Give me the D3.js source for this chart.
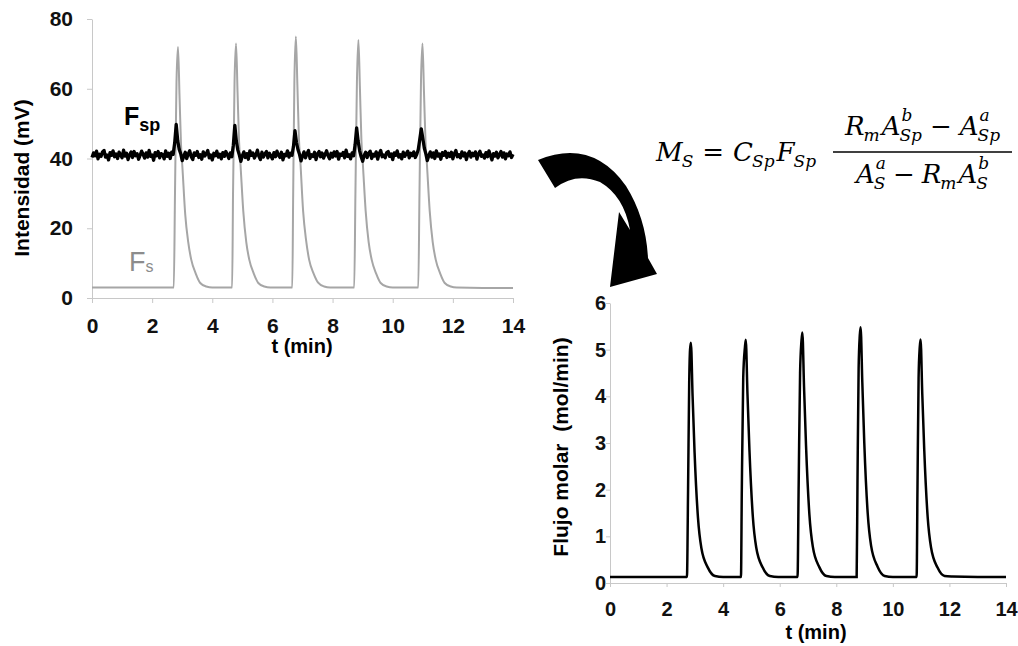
<!DOCTYPE html>
<html lang="es">
<head>
<meta charset="UTF-8">
<title>Flujo molar</title>
<script src="https://d3js.org/d3.v7.min.js"></script>
<style>
  body { margin: 0; background: #fff; }
  svg { display: block; }
  .tick text { font-family: "Liberation Sans", Arial, sans-serif; font-weight: bold; fill: #111; }
  .axis path, .axis line { stroke: #c8c8c8; }
</style>
</head>
<body>
<script>
// ---- data ----
var xTicks = [0, 2, 4, 6, 8, 10, 12, 14];
var yTicksLeft = [0, 20, 40, 60, 80];
var yTicksRight = [0, 1, 2, 3, 4, 5, 6];

// Fs (grey) signal, [t (min), mV]
var fsPoints = [
  [0, 3.0], [1, 3.0], [2, 3.0], [2.72, 3.0], [2.76, 30], [2.81, 62], [2.86, 72], [2.91, 58], [2.96, 44], [3.01, 37],
  [3.1, 24], [3.2, 16], [3.3, 11], [3.45, 7], [3.6, 4.3], [3.8, 3.3], [4.0, 3.0], [4.66, 3.0],
  [4.69, 30], [4.74, 62], [4.79, 73], [4.84, 59], [4.89, 45], [4.94, 38], [5.03, 25], [5.13, 16], [5.23, 11],
  [5.38, 7], [5.53, 4.3], [5.73, 3.3], [5.93, 3.0], [6.66, 3.0],
  [6.69, 30], [6.73, 62], [6.78, 75], [6.83, 61], [6.88, 46], [6.93, 39], [7.02, 25], [7.12, 16.5], [7.22, 11],
  [7.37, 7], [7.52, 4.4], [7.72, 3.3], [7.92, 3.0], [8.72, 3.0],
  [8.76, 30], [8.81, 62], [8.86, 74], [8.91, 60], [8.96, 45], [9.01, 38], [9.1, 25], [9.2, 16], [9.3, 11],
  [9.45, 7], [9.6, 4.3], [9.8, 3.3], [10.0, 3.0], [10.85, 3.0],
  [10.89, 30], [10.94, 62], [10.99, 73], [11.04, 59], [11.09, 45], [11.14, 38], [11.23, 25], [11.33, 16], [11.43, 11],
  [11.58, 7], [11.73, 4.3], [11.93, 3.3], [12.13, 3.0], [13, 2.9], [14, 2.9]
];

// Fsp (black, noisy) signal, one value every 0.05 min from 0 to 14
var fspStep = 0.05;
var fspValues = [
  40.3, 41.6, 40.8, 42.1, 39.9, 41.2, 40.6, 41.9, 42.3, 40.4, 41.0, 39.6, 41.7, 40.9, 42.2, 40.5, 41.3, 40.0, 41.8, 41.1,
  40.2, 42.4, 40.7, 41.5, 39.7, 41.0, 41.9, 40.3, 42.0, 40.8, 41.4, 39.8, 40.9, 42.1, 41.2, 40.1, 41.6, 40.4, 42.3, 40.6,
  41.0, 39.5, 41.7, 40.8, 42.0, 40.2, 41.4, 41.1, 39.9, 42.2, 40.6, 41.5, 40.0, 41.8, 41.2, 44.5, 49.8, 45.2, 42.6, 41.4,
  39.4, 40.6, 41.8, 40.0, 41.3, 42.2, 40.5, 39.7, 41.6, 40.9, 42.0, 40.3, 41.1, 39.8, 41.9, 40.7, 41.4, 42.3, 40.2, 41.0,
  39.6, 41.5, 40.8, 42.1, 40.4, 41.2, 39.9, 41.7, 40.6, 42.0, 41.1, 40.0, 41.6, 40.5, 43.8, 49.5, 45.0, 42.4, 41.0, 39.2,
  40.8, 41.9, 40.3, 41.4, 39.8, 42.2, 40.9, 41.6, 40.1, 41.0, 42.4, 40.6, 39.7, 41.8, 40.4, 41.3, 42.0, 40.2, 41.5, 40.7,
  39.9, 41.7, 40.5, 42.1, 41.0, 40.3, 41.8, 39.6, 41.2, 40.8, 42.2, 40.4, 41.5, 40.9, 43.5, 48.0, 44.6, 42.5, 41.2, 39.3,
  40.7, 41.9, 40.2, 41.4, 42.3, 40.0, 41.1, 40.6, 41.8, 39.7, 41.3, 42.0, 40.5, 41.6, 40.1, 41.2, 42.2, 40.8, 39.9, 41.5,
  40.4, 41.9, 40.7, 42.0, 39.8, 41.3, 40.9, 41.7, 40.2, 42.4, 40.6, 41.1, 39.9, 41.6, 40.8, 44.0, 48.8, 45.0, 42.2, 40.5,
  39.2, 40.9, 41.8, 40.3, 41.5, 42.1, 40.0, 41.2, 40.7, 41.9, 39.8, 41.4, 42.3, 40.5, 41.0, 40.2, 41.7, 42.0, 40.6, 41.3,
  39.7, 41.6, 40.9, 42.2, 40.4, 41.1, 39.9, 41.8, 40.6, 41.4, 42.1, 40.2, 41.5, 40.8, 41.9, 40.3, 41.2, 42.6, 45.5, 48.5,
  45.8, 43.0, 41.4, 39.4, 40.8, 41.9, 40.4, 41.6, 40.0, 42.2, 40.7, 41.3, 39.8, 41.7, 40.9, 42.0, 40.3, 41.5, 40.6, 41.8,
  39.9, 41.4, 42.3, 40.5, 41.1, 40.2, 41.9, 40.7, 41.6, 39.7, 41.2, 42.0, 40.4, 41.5, 40.8, 41.9, 39.8, 41.3, 42.1, 40.6,
  41.0, 40.1, 41.7, 40.5, 42.2, 40.9, 39.6, 41.4, 40.7, 41.8, 40.2, 41.1, 42.0, 40.4, 41.6, 39.9, 41.3, 40.8, 41.9, 40.3,
  41.2
];

// molar flow, [t (min), mol/min]
var msPoints = [
  [0, 0.13], [1, 0.13], [2, 0.13], [2.72, 0.13], [2.76, 2.0], [2.8, 4.3], [2.83, 5.0], [2.86, 5.15], [2.92, 4.0], [2.99, 2.8],
  [3.11, 1.4], [3.23, 0.75], [3.46, 0.33], [3.71, 0.15], [4.0, 0.13], [4.63, 0.13],
  [4.66, 2.0], [4.71, 4.4], [4.77, 5.05], [4.8, 5.21], [4.86, 4.05], [4.93, 2.85], [5.05, 1.42], [5.17, 0.76], [5.4, 0.33],
  [5.65, 0.15], [5.95, 0.13], [6.63, 0.13],
  [6.67, 2.1], [6.72, 4.5], [6.77, 5.2], [6.8, 5.37], [6.86, 4.2], [6.93, 2.95], [7.05, 1.46], [7.17, 0.78], [7.4, 0.34],
  [7.65, 0.15], [7.95, 0.13], [8.72, 0.13],
  [8.75, 2.2], [8.79, 4.6], [8.83, 5.3], [8.86, 5.48], [8.92, 4.3], [8.99, 3.0], [9.11, 1.5], [9.23, 0.8], [9.46, 0.35],
  [9.71, 0.15], [10.0, 0.13], [10.84, 0.13],
  [10.87, 2.0], [10.91, 4.4], [10.95, 5.05], [10.98, 5.22], [11.04, 4.05], [11.11, 2.85], [11.23, 1.42], [11.35, 0.76],
  [11.58, 0.33], [11.83, 0.15], [12.1, 0.14], [13, 0.13], [14, 0.13]
];

var svg = d3.select("body").append("svg")
  .attr("width", 1018)
  .attr("height", 646);

// ---- left chart ----
var xL = d3.scaleLinear().domain([0, 14]).range([92, 513]);
var yL = d3.scaleLinear().domain([0, 80]).range([298, 19]);

svg.append("g")
  .attr("class", "axis")
  .attr("transform", "translate(0,298)")
  .call(d3.axisBottom(xL).tickValues(xTicks).tickSizeInner(5).tickSizeOuter(0).tickPadding(15))
  .selectAll("text").style("font-size", "21px");

svg.append("g")
  .attr("class", "axis")
  .attr("transform", "translate(92,0)")
  .call(d3.axisLeft(yL).tickValues(yTicksLeft).tickSizeInner(5).tickSizeOuter(0).tickPadding(14))
  .selectAll("text").style("font-size", "21px");

svg.append("path")
  .datum(fsPoints)
  .attr("fill", "none")
  .attr("stroke", "#a6a6a6")
  .attr("stroke-width", 2)
  .attr("d", d3.line()
    .x(function(d) { return xL(d[0]); })
    .y(function(d) { return yL(d[1]); })
    .curve(d3.curveMonotoneX));

svg.append("path")
  .datum(fspValues)
  .attr("fill", "none")
  .attr("stroke", "#000")
  .attr("stroke-width", 3.3)
  .attr("stroke-linejoin", "round")
  .attr("d", d3.line()
    .x(function(d, i) { return xL(i * fspStep); })
    .y(function(d) { return yL(d); }));

svg.append("text")
  .attr("x", 302)
  .attr("y", 353)
  .attr("text-anchor", "middle")
  .style("font", "bold 20px 'Liberation Sans', Arial, sans-serif")
  .text("t (min)");

svg.append("text")
  .attr("transform", "translate(29,178) rotate(-90)")
  .attr("text-anchor", "middle")
  .style("font", "bold 21px 'Liberation Sans', Arial, sans-serif")
  .text("Intensidad (mV)");

// series labels
var lblSp = svg.append("text")
  .attr("x", 124).attr("y", 125)
  .style("font", "bold 25px 'Liberation Sans', Arial, sans-serif");
lblSp.append("tspan").text("F");
lblSp.append("tspan").attr("dy", 6).style("font-size", "18px").text("sp");

var lblS = svg.append("text")
  .attr("x", 129).attr("y", 271)
  .attr("fill", "#8c8c8c")
  .style("font", "27px 'Liberation Sans', Arial, sans-serif");
lblS.append("tspan").text("F");
lblS.append("tspan").attr("dy", 1).style("font-size", "16px").text("s");

// ---- right chart ----
var xR = d3.scaleLinear().domain([0, 14]).range([610, 1006]);
var yR = d3.scaleLinear().domain([0, 6]).range([583, 303]);

svg.append("g")
  .attr("class", "axis")
  .attr("transform", "translate(0,583)")
  .call(d3.axisBottom(xR).tickValues(xTicks).tickSizeInner(4).tickSizeOuter(0).tickPadding(15))
  .selectAll("text").style("font-size", "20px");

svg.append("g")
  .attr("class", "axis")
  .attr("transform", "translate(610,0)")
  .call(d3.axisLeft(yR).tickValues(yTicksRight).tickFormat(d3.format("d")).tickSizeInner(4).tickSizeOuter(0).tickPadding(0))
  .selectAll("text").style("font-size", "20px");

svg.append("path")
  .datum(msPoints)
  .attr("fill", "none")
  .attr("stroke", "#000")
  .attr("stroke-width", 2.5)
  .attr("d", d3.line()
    .x(function(d) { return xR(d[0]); })
    .y(function(d) { return yR(d[1]); })
    .curve(d3.curveMonotoneX));

svg.append("text")
  .attr("x", 816)
  .attr("y", 639)
  .attr("text-anchor", "middle")
  .style("font", "bold 20px 'Liberation Sans', Arial, sans-serif")
  .text("t (min)");

svg.append("text")
  .attr("transform", "translate(568,447) rotate(-90)")
  .attr("text-anchor", "middle")
  .style("font", "bold 21px 'Liberation Sans', Arial, sans-serif")
  .style("white-space", "pre")
  .text("Flujo molar  (mol/min)");

// ---- curved arrow ----
svg.append("path")
  .attr("d", "M538,160 Q592,138 626,186 Q646,218 648,258 L657,274 L610,287 L619,212 L630,230 Q624,196 600,182 Q576,172 555,188 Z")
  .attr("fill", "#000");

// ---- equation ----
// each part: [base, sup, sub, gap before]
var eqTop = [["M", "", "S", 0], ["=", "", "", 9], ["C", "", "Sp", 9], ["F", "", "Sp", 2]];
var eqNum = [["R", "", "m", 0], ["A", "b", "Sp", 2], ["\u2212", "", "", 8], ["A", "a", "Sp", 8]];
var eqDen = [["A", "a", "S", 0], ["\u2212", "", "", 7], ["R", "", "m", 7], ["A", "b", "S", 2]];

var mainSize = 26, scriptSize = 17;

function eqLine(parts, x, y) {
  var t = svg.append("text")
    .style("font-family", "'DejaVu Serif', serif")
    .style("font-style", "italic");
  var cx = x;
  parts.forEach(function(p) {
    cx += p[3];
    var base = t.append("tspan").attr("x", cx).attr("y", y)
      .style("font-size", mainSize + "px")
      .style("font-style", p[0] === "=" || p[0] === "\u2212" ? "normal" : "italic")
      .text(p[0]);
    cx += base.node().getComputedTextLength();
    var w = 0;
    if (p[1]) {
      var sp = t.append("tspan").attr("x", cx + 1).attr("y", y - 14)
        .style("font-size", scriptSize + "px").text(p[1]);
      w = sp.node().getComputedTextLength() + 1;
    }
    if (p[2]) {
      var sb = t.append("tspan").attr("x", cx - 1).attr("y", y + 6)
        .style("font-size", scriptSize + "px").text(p[2]);
      w = Math.max(w, sb.node().getComputedTextLength() - 1);
    }
    cx += w;
  });
  return { node: t, width: cx - x };
}

eqLine(eqTop, 656, 161);

var barX0 = 833, barX1 = 1012;
svg.append("line")
  .attr("x1", barX0).attr("x2", barX1)
  .attr("y1", 152).attr("y2", 152)
  .attr("stroke", "#000").attr("stroke-width", 1.6);

var num = eqLine(eqNum, 0, 135);
num.node.attr("transform", "translate(" + ((barX0 + barX1) / 2 - num.width / 2) + ",0)");
var den = eqLine(eqDen, 0, 183);
den.node.attr("transform", "translate(" + ((barX0 + barX1) / 2 - den.width / 2) + ",0)");
</script>
</body>
</html>
